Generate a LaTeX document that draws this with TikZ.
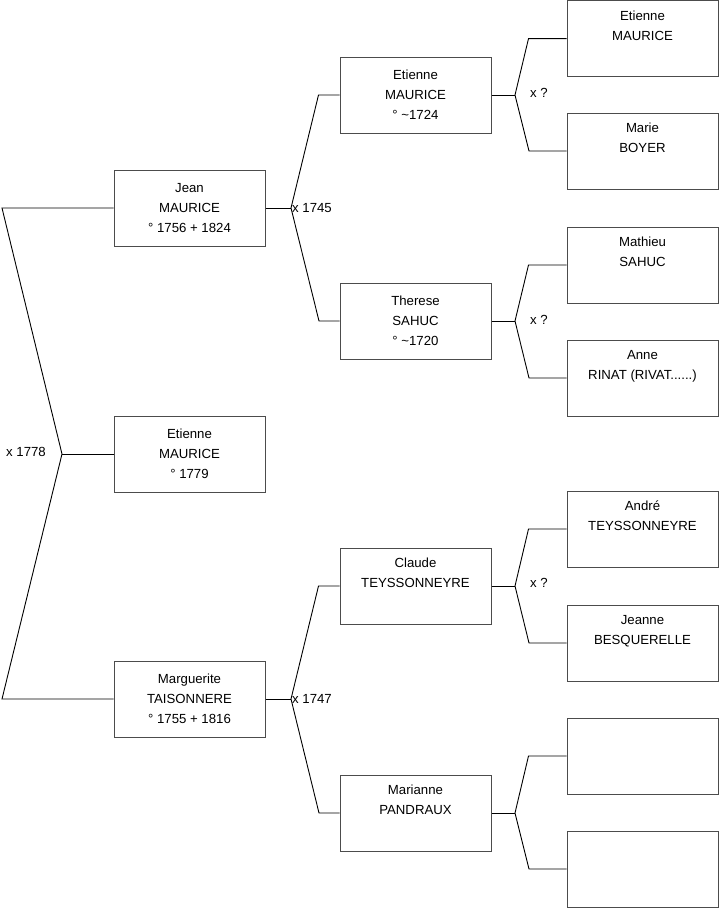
\documentclass[tikz,border=0pt]{standalone}
\usepackage{fontspec}
\setmainfont{Liberation Sans}
\usetikzlibrary{positioning}
\tikzset{
  person/.style={draw=black!70, line width=1pt, rectangle, minimum width=151pt,
    minimum height=76pt, inner sep=0pt, align=center,
    font=\fontsize{13.2}{20}\selectfont},
  lien/.style={line width=0.9pt, black},
  mariage/.style={font=\fontsize{13.2}{15}\selectfont, inner sep=1pt}
}
\begin{document}
\begin{tikzpicture}[x=1pt, y=-1pt]
  \useasboundingbox (0,0) rectangle (719,908);

  % Generation 1
  \node[person] (jean) at (189.5,208) {Jean\\MAURICE\\° 1756 + 1824};
  \node[person] (enfant) at (189.5,454) {Etienne\\MAURICE\\° 1779};
  \node[person] (marg) at (189.5,699) {Marguerite\\TAISONNERE\\° 1755 + 1816};

  % Generation 2
  \node[person] (etienneP) at (415.5,95) {Etienne\\MAURICE\\° \textasciitilde 1724};
  \node[person] (therese) at (415.5,321) {Therese\\SAHUC\\° \textasciitilde 1720};
  \node[person] (claude) at (415.5,586) {Claude\\TEYSSONNEYRE\\\strut};
  \node[person] (marianne) at (415.5,813) {Marianne\\PANDRAUX\\\strut};

  % Generation 3
  \node[person] (etienneGP) at (642.5,38.6) {Etienne\\MAURICE\\\strut};
  \node[person] (marie) at (642.5,151) {Marie\\BOYER\\\strut};
  \node[person] (mathieu) at (642.5,265) {Mathieu\\SAHUC\\\strut};
  \node[person] (anne) at (642.5,378) {Anne\\RINAT (RIVAT......)\\\strut};
  \node[person] (andre) at (642.5,529) {André\\TEYSSONNEYRE\\\strut};
  \node[person] (jeanne) at (642.5,643) {Jeanne\\BESQUERELLE\\\strut};
  \node[person] (inconnu1) at (642.5,756) {};
  \node[person] (inconnu2) at (642.5,869) {};

  % Points de fourche
  \coordinate (f0) at (62,454);
  \coordinate (f0a) at (2,208);
  \coordinate (f0b) at (2,699);
  \coordinate (f1) at (291,208);
  \coordinate (f2) at (291,699);
  \coordinate (f3) at (515,95);
  \coordinate (f4) at (515,321);
  \coordinate (f5) at (515,586);
  \coordinate (f6) at (515,813);

  % Liens
  \draw[lien] (jean.west) -- (f0a) -- (f0) -- (f0b) -- (marg.west);
  \draw[lien] (f0) -- (enfant.west);
  \node[mariage, left] at (47,452) {x 1778};

  \draw[lien] (jean.east) -- (f1);
  \draw[lien] (etienneP.west) -- ++(-21,0) -- (f1) -- (319,321) -- (therese.west);
  \node[mariage, right] at (f1) {x 1745};

  \draw[lien] (marg.east) -- (f2);
  \draw[lien] (claude.west) -- ++(-21,0) -- (f2) -- (319,813) -- (marianne.west);
  \node[mariage, right] at (f2) {x 1747};

  \draw[lien] (etienneP.east) -- (f3);
  \draw[lien] (etienneGP.west) -- ++(-38,0) -- (f3) -- (529,151) -- (marie.west);
  \node[mariage, right] at (529,93) {x ?};

  \draw[lien] (therese.east) -- (f4);
  \draw[lien] (mathieu.west) -- ++(-38,0) -- (f4) -- (529,378) -- (anne.west);
  \node[mariage, right] at (529,320) {x ?};

  \draw[lien] (claude.east) -- (f5);
  \draw[lien] (andre.west) -- ++(-38,0) -- (f5) -- (529,643) -- (jeanne.west);
  \node[mariage, right] at (529,583) {x ?};

  \draw[lien] (marianne.east) -- (f6);
  \draw[lien] (inconnu1.west) -- ++(-38,0) -- (f6) -- (529,869) -- (inconnu2.west);
\end{tikzpicture}
\end{document}
